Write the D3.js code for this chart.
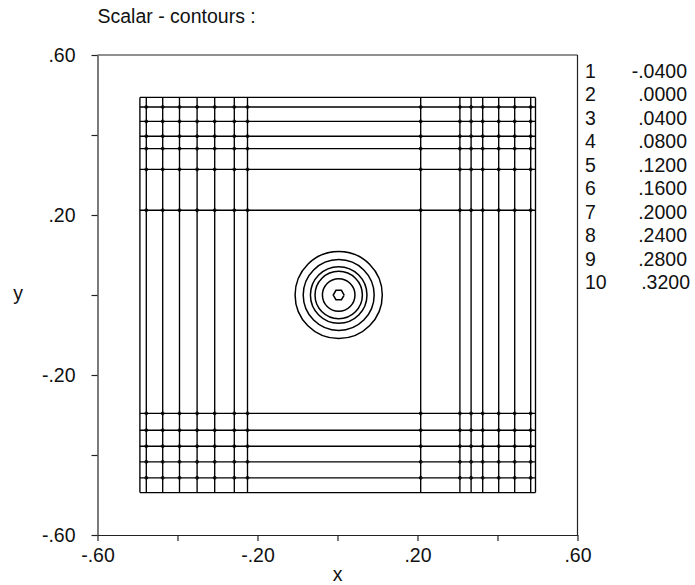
<!DOCTYPE html>
<html>
<head>
<meta charset="utf-8">
<script src="https://cdn.jsdelivr.net/npm/d3@7"></script>
<style>
  html, body { margin: 0; padding: 0; background: #fff; }
  svg text { font-family: "Liberation Sans", Arial, Helvetica, sans-serif; fill: #111; }
</style>
</head>
<body>
<svg id="chart" width="695" height="585"></svg>
<script>
// ---- data ----
const titleText = "Scalar - contours :";
const xTicks = [-0.6, -0.4, -0.2, 0, 0.2, 0.4, 0.6];
const yTicks = [-0.6, -0.4, -0.2, 0, 0.2, 0.4, 0.6];
const labeledTicks = [-0.6, -0.2, 0.2, 0.6];
const legendIndex = ["1", "2", "3", "4", "5", "6", "7", "8", "9", "10"];
const legendValues = ["-.0400", ".0000", ".0400", ".0800", ".1200", ".1600", ".2000", ".2400", ".2800", ".3200"];
// contour grid lines (x positions of vertical lines, y positions of horizontal lines)
const gridX = [-0.494, -0.478, -0.437, -0.395, -0.351, -0.307, -0.258, -0.225, 0.208, 0.306, 0.334, 0.363, 0.403, 0.443, 0.483, 0.495];
const gridY = [0.494, 0.470, 0.434, 0.397, 0.366, 0.314, 0.212, -0.296, -0.338, -0.378, -0.417, -0.457, -0.494];
// concentric contour rings around the peak
const ringCenter = [0.003, 0.0];
const ringRadii = [0.109, 0.0887, 0.0707, 0.0592, 0.0407];
const innerRadius = 0.0137;

// ---- layout ----
const svg = d3.select("#chart");
const x = d3.scaleLinear().domain([-0.6, 0.6]).range([97.5, 577.5]);
const y = d3.scaleLinear().domain([-0.6, 0.6]).range([535, 55]);
const fontSize = 19.5;
const lbl = d => labeledTicks.some(t => Math.abs(t - d) < 1e-9)
  ? d3.format(".2f")(d).replace("\u2212", "-").replace("0.", ".") : "";

// frame top & right
svg.append("line").attr("x1", x(-0.6)).attr("x2", x(0.6)).attr("y1", y(0.6)).attr("y2", y(0.6))
  .attr("stroke", "#222").attr("stroke-width", 1.2);
svg.append("line").attr("x1", x(0.6)).attr("x2", x(0.6)).attr("y1", y(0.6)).attr("y2", y(-0.6))
  .attr("stroke", "#222").attr("stroke-width", 1.2);

// axes
const gx = svg.append("g").attr("transform", `translate(0,${y(-0.6)})`)
  .call(d3.axisBottom(x).tickValues(xTicks).tickSize(6).tickSizeOuter(0).tickPadding(7).tickFormat(lbl));
const gy = svg.append("g").attr("transform", `translate(${x(-0.6)},0)`)
  .call(d3.axisLeft(y).tickValues(yTicks).tickSize(6).tickSizeOuter(0).tickPadding(16).tickFormat(lbl));
[gx, gy].forEach(g => {
  g.selectAll("path, line").attr("stroke", "#222").attr("stroke-width", 1.2);
  g.selectAll("text").attr("font-size", fontSize).attr("fill", "#111")
    .style("font-family", '"Liberation Sans", Arial, sans-serif');
});

// title & axis names
svg.append("text").attr("x", x(-0.6)).attr("y", 23).attr("font-size", fontSize).text(titleText);
svg.append("text").attr("x", 18).attr("y", y(0) + 5).attr("text-anchor", "middle").attr("font-size", fontSize).text("y");
svg.append("text").attr("x", x(0)).attr("y", 581).attr("text-anchor", "middle").attr("font-size", fontSize).text("x");

// legend
const leg = svg.append("g");
legendIndex.forEach((d, i) => {
  leg.append("text").attr("x", 585).attr("y", 77.5 + i * 23.5).attr("font-size", fontSize).text(d);
  leg.append("text").attr("x", d.length > 1 ? 690 : 687).attr("y", 77.5 + i * 23.5)
    .attr("text-anchor", "end").attr("font-size", fontSize).text(legendValues[i]);
});

// contour grid
const gGrid = svg.append("g").attr("stroke", "#000").attr("stroke-width", 1.35).attr("fill", "none");
const xMin = d3.min(gridX), xMax = d3.max(gridX), yMin = d3.min(gridY), yMax = d3.max(gridY);
gGrid.selectAll("line.v").data(gridX).join("line").attr("class", "v")
  .attr("x1", d => x(d)).attr("x2", d => x(d)).attr("y1", y(yMax)).attr("y2", y(yMin));
gGrid.selectAll("line.h").data(gridY).join("line").attr("class", "h")
  .attr("x1", x(xMin)).attr("x2", x(xMax)).attr("y1", d => y(d)).attr("y2", d => y(d));
// small markers at interior intersections
const inner = (arr) => arr.filter(v => v !== d3.min(arr) && v !== d3.max(arr));
const pts = [];
inner(gridX).forEach(gxv => inner(gridY).forEach(gyv => pts.push([gxv, gyv])));
gGrid.selectAll("circle.m").data(pts).join("circle").attr("class", "m")
  .attr("cx", d => x(d[0])).attr("cy", d => y(d[1])).attr("r", 1.5).attr("stroke-width", 0.9);

// rings
const pxPerUnit = x(1) - x(0);
const gRings = svg.append("g").attr("stroke", "#000").attr("stroke-width", 1.5).attr("fill", "none");
gRings.selectAll("circle").data(ringRadii).join("circle")
  .attr("cx", x(ringCenter[0])).attr("cy", y(ringCenter[1])).attr("r", d => d * pxPerUnit);
const hexAngles = d3.range(7).map(i => i * Math.PI / 3);
gRings.append("path").attr("d", d3.line()(hexAngles.map(a => [
  x(ringCenter[0] + innerRadius * Math.cos(a)), y(ringCenter[1] + innerRadius * Math.sin(a))])));
</script>
</body>
</html>
